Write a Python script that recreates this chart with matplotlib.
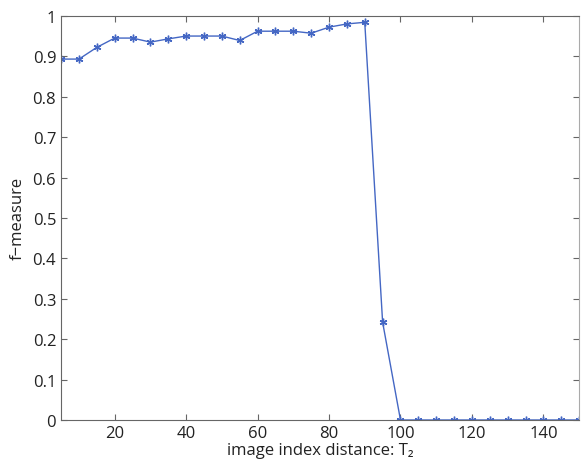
import matplotlib
matplotlib.use("Agg")
import matplotlib.pyplot as plt

x_vals = list(range(5, 151, 5))
f_measure = [0.893, 0.893, 0.922, 0.945, 0.945, 0.935, 0.943, 0.950, 0.950, 0.950,
             0.939, 0.962, 0.962, 0.962, 0.957, 0.972, 0.980, 0.984, 0.242, 0.0,
             0.0, 0.0, 0.0, 0.0, 0.0, 0.0, 0.0, 0.0, 0.0, 0.0]
x_ticks = [20, 40, 60, 80, 100, 120, 140]
y_ticks = [0, 0.1, 0.2, 0.3, 0.4, 0.5, 0.6, 0.7, 0.8, 0.9, 1]
y_tick_labels = ["0", "0.1", "0.2", "0.3", "0.4", "0.5", "0.6", "0.7", "0.8", "0.9", "1"]

plt.rcParams['font.family'] = ['Open Sans', 'DejaVu Sans']
fig = plt.figure(figsize=(5.82, 4.64), dpi=100)
ax = fig.add_axes([0.105, 0.0927, 0.890, 0.871])
col = '#4467c4'
ax.plot(x_vals, f_measure, color=col, linewidth=1.0, marker=(6, 2, 0),
        markersize=5.5, markeredgewidth=1.0, markeredgecolor=col)
ax.set_xlim(5, 150)
ax.set_ylim(0, 1)
ax.set_xticks(x_ticks)
ax.set_yticks(y_ticks)
ax.set_yticklabels(y_tick_labels)
ax.tick_params(direction='in', top=True, right=True, length=4, labelsize=12,
               colors='#666666', labelcolor='#222222')
for s in ax.spines.values():
    s.set_color('#666666')
ax.spines['right'].set_color('#aaaaaa')
ax.set_xlabel("image index distance: T₂", fontsize=12, labelpad=1, color='#222222')
ax.set_ylabel("f−measure", fontsize=12, labelpad=5, color='#222222')
fig.savefig("out.png", dpi=100)
